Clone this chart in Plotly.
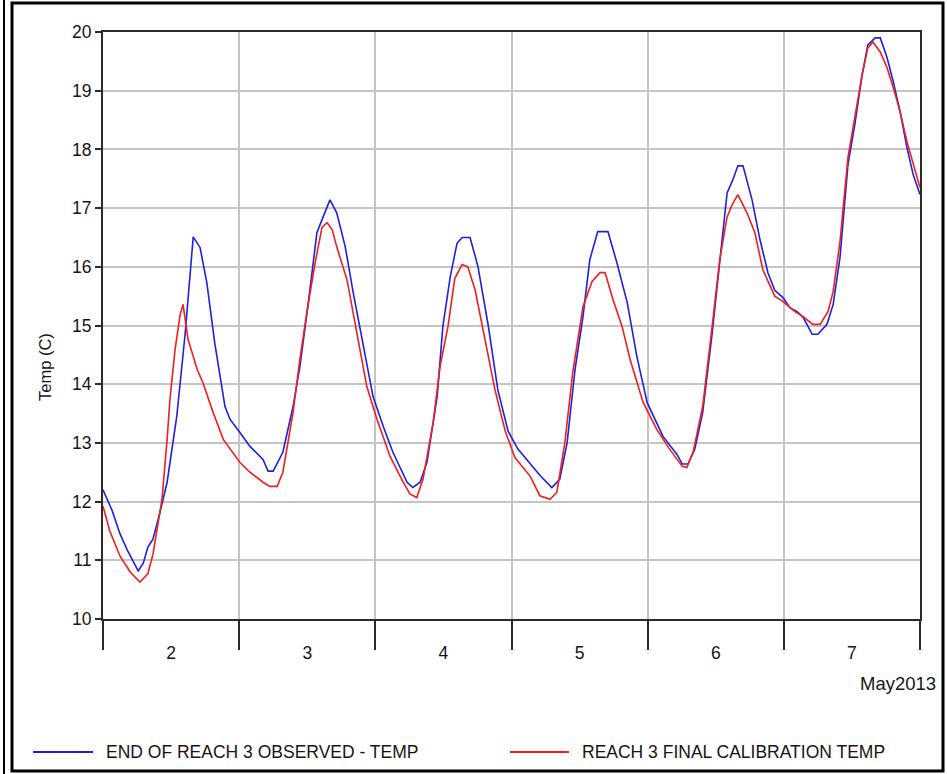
import pandas as pd
import plotly.graph_objects as go

# ---- data (hours since 2013-05-02 00:00, temperature in C) ----
obs_hours = [0.0, 1.6, 3.0, 4.4, 6.2, 7.1, 7.9, 8.8, 10.0, 11.3, 13.0, 14.5, 15.9, 17.1, 18.3, 19.7,
             21.5, 22.4, 24.1, 25.9, 28.2, 29.1, 30.0, 31.7, 33.5, 34.7, 36.1, 37.7, 38.8, 40.0, 41.2,
             42.7, 44.1, 45.8, 47.6, 49.4, 51.1, 53.6, 54.6, 55.9, 57.1, 58.9, 59.9, 61.2, 62.4, 63.3,
             64.7, 66.1, 67.9, 69.6, 71.4, 73.1, 75.3, 77.0, 79.1, 80.5, 81.8, 83.2, 84.6, 85.8, 87.2,
             89.0, 90.6, 92.4, 94.1, 95.9, 98.7, 101.2, 102.1, 103.1, 104.3, 105.7, 107.3, 108.7, 110.0,
             111.0, 111.9, 112.8, 114.4, 115.8, 117.2, 118.4, 119.8, 121.1, 122.3, 123.4, 125.0, 126.0,
             127.6, 128.7, 129.9, 131.3, 132.5, 133.8, 134.8, 136.1, 137.0, 138.2, 139.3, 140.5, 141.7,
             142.8, 144.0]
obs_temp = [12.2, 11.85, 11.45, 11.15, 10.82, 10.95, 11.22, 11.36, 11.8, 12.33, 13.45, 14.88, 16.51,
            16.33, 15.73, 14.7, 13.62, 13.4, 13.18, 12.94, 12.72, 12.52, 12.52, 12.84, 13.62, 14.3,
            15.32, 16.58, 16.85, 17.14, 16.92, 16.34, 15.56, 14.71, 13.79, 13.28, 12.84, 12.33, 12.24,
            12.33, 12.67, 13.79, 14.98, 15.83, 16.4, 16.5, 16.5, 16.0, 15.0, 13.9, 13.2, 12.9, 12.64,
            12.45, 12.24, 12.38, 13.0, 14.25, 15.15, 16.12, 16.6, 16.6, 16.06, 15.39, 14.47, 13.69,
            13.11, 12.8, 12.64, 12.64, 12.89, 13.52, 14.81, 16.12, 17.26, 17.48, 17.72, 17.72, 17.14,
            16.46, 15.9, 15.6, 15.48, 15.3, 15.24, 15.14, 14.85, 14.85, 15.02, 15.36, 16.16, 17.74,
            18.42, 19.27, 19.78, 19.9, 19.9, 19.56, 19.15, 18.64, 18.03, 17.57, 17.23]

cal_hours = [0.0, 1.2, 3.0, 4.8, 6.5, 7.9, 8.8, 10.4, 11.3, 11.8, 12.7, 13.6, 14.1, 15.0, 16.6, 17.6,
             19.4, 21.2, 24.1, 25.9, 28.2, 29.4, 30.7, 31.7, 33.5, 34.7, 36.0, 37.4, 38.6, 39.5, 40.4,
             41.2, 43.0, 44.8, 46.5, 48.3, 50.6, 52.9, 54.1, 55.3, 56.4, 58.2, 59.4, 60.8, 62.0, 63.3,
             64.3, 65.6, 67.3, 69.1, 70.9, 72.6, 75.3, 77.0, 78.8, 80.0, 81.4, 82.8, 84.6, 86.2, 87.6,
             88.5, 89.9, 91.5, 92.9, 95.2, 97.6, 99.9, 102.1, 102.9, 104.0, 105.7, 107.3, 108.7, 110.0,
             110.9, 111.9, 113.5, 114.9, 116.3, 118.4, 119.8, 121.9, 123.4, 125.1, 126.4, 127.8, 128.7,
             129.9, 131.3, 132.5, 133.8, 134.8, 135.7, 137.0, 138.2, 139.3, 140.5, 141.7, 142.8, 144.0]
cal_temp = [11.92, 11.5, 11.07, 10.8, 10.63, 10.77, 11.1, 12.04, 13.06, 13.74, 14.59, 15.19, 15.36,
            14.76, 14.25, 14.03, 13.52, 13.06, 12.67, 12.5, 12.33, 12.26, 12.26, 12.5, 13.52, 14.42,
            15.27, 16.07, 16.67, 16.75, 16.63, 16.34, 15.78, 14.81, 13.96, 13.4, 12.77, 12.33, 12.13,
            12.07, 12.38, 13.35, 14.3, 14.98, 15.8, 16.04, 16.0, 15.6, 14.8, 13.9, 13.2, 12.75, 12.43,
            12.1, 12.04, 12.16, 13.0, 14.2, 15.32, 15.75, 15.9, 15.9, 15.44, 14.98, 14.42, 13.69,
            13.23, 12.89, 12.6, 12.58, 12.84, 13.62, 14.93, 16.12, 16.85, 17.06, 17.23, 16.92, 16.58,
            15.95, 15.5, 15.41, 15.24, 15.15, 15.02, 15.02, 15.24, 15.58, 16.43, 17.86, 18.54, 19.27,
            19.73, 19.83, 19.66, 19.39, 19.05, 18.64, 18.13, 17.74, 17.35]

start = pd.Timestamp("2013-05-02 00:00")
end = pd.Timestamp("2013-05-08 00:00")
obs_x = [start + pd.Timedelta(hours=h) for h in obs_hours]
cal_x = [start + pd.Timedelta(hours=h) for h in cal_hours]

series_names = ["END OF REACH 3 OBSERVED - TEMP", "REACH 3 FINAL CALIBRATION TEMP"]
series_colors = ["#1f1fe0", "#f01e1e"]
y_title = "Temp (C)"
x_period_label = "May2013"

# ---- layout geometry (pixels of the 947x774 page) ----
W, H = 947, 774
L, R, T, B = 103, 920, 32, 619


def px(x):
    return (x - L) / (R - L)


def py(y):
    return (B - y) / (B - T)


FONT = "Liberation Sans, Arial, sans-serif"
TXT = "#151515"
FS = 17.5

fig = go.Figure()
fig.add_trace(go.Scatter(x=obs_x, y=obs_temp, mode="lines", name=series_names[0],
                         line=dict(color=series_colors[0], width=1.6)))
fig.add_trace(go.Scatter(x=cal_x, y=cal_temp, mode="lines", name=series_names[1],
                         line=dict(color=series_colors[1], width=1.6)))

fig.update_layout(
    width=W, height=H,
    margin=dict(l=L, r=W - R, t=T, b=H - B, pad=0),
    paper_bgcolor="white", plot_bgcolor="white",
    showlegend=False,
    font=dict(family=FONT, size=FS, color=TXT),
    xaxis=dict(
        type="date", range=[start, end],
        tick0=start, dtick=86400000, tickformat="%-d", ticklabelmode="period",
        ticks="outside", ticklen=29, tickwidth=2, tickcolor="#2a2a2a",
        ticklabelstandoff=-12,
        showgrid=True, gridcolor="#c4c4c4", gridwidth=1.5,
        showline=True, linecolor="#2a2a2a", linewidth=2, mirror=True,
        zeroline=False, tickfont=dict(size=FS, color=TXT),
    ),
    yaxis=dict(
        range=[10, 20], dtick=1, tick0=10,
        ticks="outside", ticklen=6, tickwidth=1.5, tickcolor="#2a2a2a",
        showgrid=True, gridcolor="#c4c4c4", gridwidth=1.5,
        showline=True, linecolor="#2a2a2a", linewidth=2, mirror=True,
        zeroline=False, tickfont=dict(size=FS, color=TXT),
    ),
)

shapes = []
annotations = []
# y-axis title
annotations.append(dict(text=y_title, x=px(45), y=py(367), xref="paper", yref="paper",
                        textangle=-90, showarrow=False, xanchor="center", yanchor="middle",
                        font=dict(size=16.5, color=TXT)))
# period label
annotations.append(dict(text=x_period_label, x=px(938), y=py(683), xref="paper", yref="paper",
                        showarrow=False, xanchor="right", yanchor="middle",
                        font=dict(size=18.5, color=TXT)))
# manual legend
leg_items = [(33, 93, 104), (510, 569, 580)]
for (x0, x1, xt), name, col in zip(leg_items, series_names, series_colors):
    shapes.append(dict(type="line", xref="paper", yref="paper", x0=px(x0), x1=px(x1),
                       y0=py(752), y1=py(752), line=dict(color=col, width=2)))
    annotations.append(dict(text=name, x=px(xt), y=py(752), xref="paper", yref="paper",
                            showarrow=False, xanchor="left", yanchor="middle",
                            font=dict(size=FS, color=TXT)))
# outer frame
shapes.append(dict(type="rect", xref="paper", yref="paper", x0=px(12), x1=px(943),
                   y0=py(771), y1=py(3), line=dict(color="black", width=3), layer="above"))
shapes.append(dict(type="line", xref="paper", yref="paper", x0=px(4), x1=px(4),
                   y0=py(0), y1=py(774), line=dict(color="black", width=2)))

fig.update_layout(shapes=shapes, annotations=annotations)
fig.write_html("out.html")
